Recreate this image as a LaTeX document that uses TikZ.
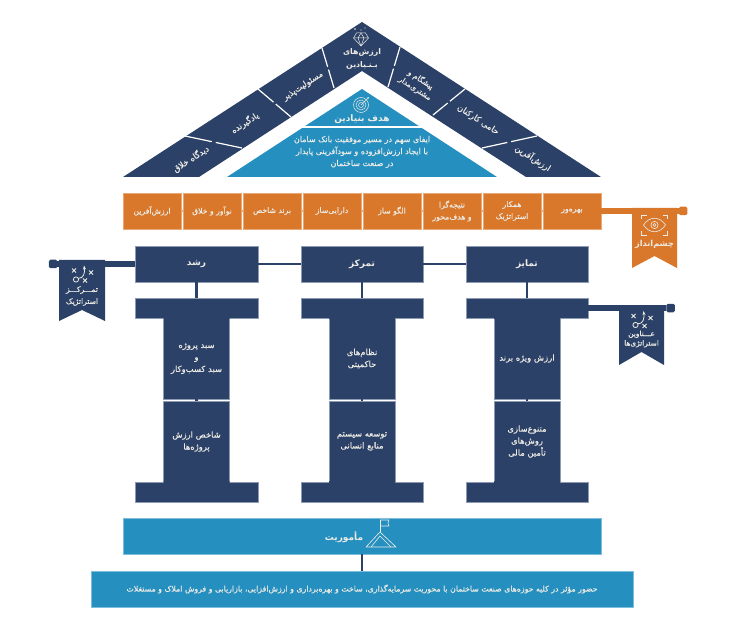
\documentclass[tikz,border=0pt]{standalone}
\usepackage{fontspec}
\usetikzlibrary{calc,arrows.meta,positioning}
\TeXXeTstate=1
\newfontfamily\persianfont[Script=Arabic,FakeBold=0.35]{DejaVu Sans}
\newfontfamily\persiantitle[Script=Arabic]{DejaVu Sans}
\newcommand{\fa}[1]{\beginR #1\endR}
\definecolor{navy}{HTML}{2C4167}
\definecolor{navyedge}{HTML}{8C9AB3}
\definecolor{amber}{HTML}{D9782B}
\definecolor{amberedge}{HTML}{E9A876}
\definecolor{sky}{HTML}{2590C0}
\definecolor{skyedge}{HTML}{7CBEDB}
\definecolor{paper}{HTML}{EDEBE6}

\tikzset{
  pics/tactic/.style={code={
    \draw[paper, line width=0.8pt] (-6,6) circle (2.6);
    \draw[paper, line width=0.8pt, -{Stealth[length=4pt]}] (-4,5) .. controls (2,5) and (3,-1) .. (2,-8);
    \foreach \px/\py in {-8/-3, 9/-1, 3/7} {
      \draw[paper, line width=0.9pt] (\px-2,\py-2) -- (\px+2,\py+2) (\px-2,\py+2) -- (\px+2,\py-2);
    }
  }}
}

\begin{document}
\begin{tikzpicture}[x=1pt, y=-1pt, font=\persianfont,
  caption/.style={text=paper, align=center, inner sep=0pt, font=\persianfont\fontsize{8.4}{11.5}\selectfont},
  barbox/.style={fill=navy, draw=navyedge, line width=0.4pt, inner sep=0pt, text=paper, align=center,
              font=\persianfont\fontsize{8.4}{12}\selectfont},
  bluebar/.style={fill=sky, draw=skyedge, line width=0.5pt, inner sep=0pt, text=paper, align=center},
  orangebox/.style={fill=amber, draw=amberedge, line width=0.6pt, inner sep=0pt, minimum width=58pt,
              minimum height=36pt, text=paper, align=center, font=\persianfont\fontsize{7.7}{12}\selectfont},
  headbox/.style={barbox, minimum width=122.5pt, minimum height=36pt, font=\persiantitle\bfseries\fontsize{9}{11}\selectfont},
  capbox/.style={barbox, minimum width=122.5pt, minimum height=20pt},
  shaftbox/.style={barbox, minimum width=66pt, minimum height=81pt},
  navylink/.style={navy, line width=2.2pt},
  thickbar/.style={line width=6pt},
  sepline/.style={white, line width=1.2pt},
  ringend/.style={rounded corners=1.5pt, minimum size=8.5pt, inner sep=0pt},
  ]

\useasboundingbox (0,0) rectangle (736,628);

% ======================================================================
% ROOF: outer band and its dividers
% ======================================================================
\fill[navy] (123,177) -- (362,22) -- (601,177) -- (526,177) -- (362,71) -- (199,177) -- cycle;

\foreach \ax/\ay/\bx/\by in {185/136/242/148, 258/89/291/117, 322/48/334/88,
                             400/47/388/87, 465/89/433/115, 537/136/482/148} {
  \coordinate (sepstart) at (\ax,\ay);
  \coordinate (sepend) at (\bx,\by);
  \draw[sepline] (sepstart) -- ($(sepstart)!0.47!(sepend)$);
  \draw[sepline] ($(sepstart)!0.54!(sepend)$) -- (sepend);
}

\node[caption, rotate=33] (vision1) at (191,159) {\fa{دیدگاه خلاق}};
\node[caption, rotate=33] (vision2) at (245,123) {\fa{یادگیرنده}};
\node[caption, rotate=33] (vision3) at (303,86) {\fa{مسئولیت‌پذیر}};
\node[caption, font=\persiantitle\bfseries\fontsize{7.8}{13.5}\selectfont] (core) at (362,59)
  {\fa{ارزش‌های}\\\fa{بـنـیادین}};
\node[caption, rotate=-33, font=\persianfont\fontsize{7.6}{10.5}\selectfont] (value1) at (418,84)
  {\fa{پیشگام و}\\\fa{مشتری‌مدار}};
\node[caption, rotate=-33] (value2) at (478,120) {\fa{حامی کارکنان}};
\node[caption, rotate=-33] (value3) at (533,158) {\fa{ارزش‌آفرین}};

% Small diamond icon
\begin{scope}[shift={(361,39)}, paper, line width=0.5pt, line join=round]
  \draw (-4.5,-6) -- (4.5,-6) -- (7.5,-1) -- (0,7) -- (-7.5,-1) -- cycle;
  \draw (-7.5,-1) -- (7.5,-1) (-3,-1) -- (0,7) -- (3,-1) -- (0,-6) -- cycle;
  \fill (-6,-10) circle (0.8) (0,-9) circle (0.7) (4,-11) circle (0.6);
\end{scope}

% ======================================================================
% Blue triangle
% ======================================================================
\fill[sky] (227,177) -- (362,89) -- (497,177) -- cycle;
\draw[white, line width=1.2pt] (294,127) -- (430,127);

\begin{scope}[shift={(361,105)}, paper, line width=0.5pt]
  \draw (0,0) circle (7.5) (0,0) circle (5) (0,0) circle (2.5);
  \draw[-{Stealth[length=2.5pt]}] (0,0) -- (8,-8);
\end{scope}
\node[caption, font=\persiantitle\bfseries\fontsize{9}{11}\selectfont] (goaltitle) at (362,119) {\fa{هدف بنیادین}};
\node[caption, font=\persianfont\fontsize{8}{12}\selectfont] (goaltext) at (362,152)
  {\fa{ایفای سهم در مسیر موفقیت بانک سامان}\\
   \fa{با ایجاد ارزش‌افزوده و سودآفرینی پایدار}\\
   \fa{در صنعت ساختمان}};

% ======================================================================
% Orange row
% ======================================================================
\foreach \n/\x/\t in {boxA/152/{\fa{ارزش‌آفرین}},
                      boxB/212/{\fa{نوآور و خلاق}},
                      boxC/272/{\fa{برند شاخص}},
                      boxD/332/{\fa{دارایی‌ساز}},
                      boxE/392/{\fa{الگو ساز}},
                      boxF/452/{\fa{نتیجه‌گرا}\\\fa{و هدف‌محور}},
                      boxG/512/{\fa{همکار}\\\fa{استراتژیک}},
                      boxH/572/{\fa{بهره‌ور}}} {
  \node[orangebox] (\n) at (\x,211) {\t};
}
\foreach \a/\b in {boxA/boxB, boxB/boxC, boxC/boxD, boxD/boxE, boxE/boxF, boxF/boxG, boxG/boxH} {
  \draw[amberedge, line width=2pt] (\a.east) -- (\b.west);
}

% Vision flag
\node[fill=amber, ringend] (visionend) at (683,211) {};
\draw[amber, thickbar] (boxH.east) -- (visionend);
\fill[amber] (632,208) -- (677,208) -- (677,268) -- (654.5,256) -- (632,268) -- cycle;
\begin{scope}[shift={(654.5,225)}, paper, line width=0.6pt]
  \draw (-11,0) .. controls (-5,-9) and (5,-9) .. (11,0) .. controls (5,9) and (-5,9) .. (-11,0) -- cycle;
  \draw (0,0) circle (3.6) (0,0) circle (1.5);
  \draw (-13,-6) -- (-13,-10) -- (-8,-10) (8,-10) -- (13,-10) -- (13,-6)
        (13,6) -- (13,10) -- (8,10) (-8,10) -- (-13,10) -- (-13,6);
\end{scope}
\node[caption, font=\persiantitle\bfseries\fontsize{8.2}{11}\selectfont] (visiontext) at (654.5,244) {\fa{چشم‌انداز}};

% ======================================================================
% Three pillars
% ======================================================================
\foreach \n/\x/\t in {growth/196.5/{رشد}, focus/362/{تمرکز}, edge/527/{تمایز}} {
  \node[headbox] (\n) at (\x,264) {\fa{\t}};
  \node[capbox] (\n-top) at (\x,308) {};
  \node[capbox] (\n-base) at (\x,492) {};
  \draw[navylink] (\n.south) -- (\n-top.north);
}
\draw[navylink] (growth.east) -- (focus.west);
\draw[navylink] (focus.east) -- (edge.west);

\node[shaftbox] (growthA) at (196.5,358.5) {\fa{سبد پروژه}\\\fa{و}\\\fa{سبد کسب‌وکار}};
\node[shaftbox] (growthB) at (196.5,441.5) {\fa{شاخص ارزش}\\\fa{پروژه‌ها}};
\node[shaftbox] (focusA) at (362,358.5) {\fa{نظام‌های}\\\fa{حاکمیتی}};
\node[shaftbox] (focusB) at (362,441.5) {\fa{توسعه سیستم}\\\fa{منابع انسانی}};
\node[shaftbox] (edgeA) at (527,358.5) {\fa{ارزش ویژه برند}};
\node[shaftbox] (edgeB) at (527,441.5) {\fa{متنوع‌سازی}\\\fa{روش‌های}\\\fa{تأمین مالی}};
\foreach \a/\b in {growthA/growthB, focusA/focusB, edgeA/edgeB} {
  \draw[navylink] (\a.south) -- (\b.north);
}
% hide the joins between shaft and cap
\fill[navy] (163.5,317) rectangle (229.5,319) (163.5,481) rectangle (229.5,483);
\fill[navy] (329,317) rectangle (395,319) (329,481) rectangle (395,483);
\fill[navy] (494,317) rectangle (560,319) (494,481) rectangle (560,483);

% Left flag
\node[fill=navy, ringend] (growthend) at (53,264) {};
\draw[navy, thickbar] (growth.west) -- (growthend);
\fill[navy] (59,260) -- (105,260) -- (105,321) -- (82,310) -- (59,321) -- cycle;
\pic at (82,273.5) {tactic};
\node[caption, font=\persianfont\fontsize{7.6}{12}\selectfont] (flagleft) at (82,296)
  {\fa{تمـــرکـــز}\\\fa{استراتژیک}};

% Right flag
\node[fill=navy, ringend] (edgeend) at (670.5,308) {};
\draw[navy, thickbar] (edge-top.east) -- (edgeend);
\fill[navy] (619,305) -- (664,305) -- (664,365) -- (641.5,352) -- (619,365) -- cycle;
\pic at (641.5,319) {tactic};
\node[caption, font=\persianfont\fontsize{7.4}{9.5}\selectfont] (flagright) at (641.5,339)
  {\fa{عـــناوین}\\\fa{استراتژی‌ها}};

% ======================================================================
% Mission
% ======================================================================
\node[bluebar, minimum width=478pt, minimum height=36pt] (mission) at (362,536) {};
\node[bluebar, minimum width=542pt, minimum height=36pt,
      font=\persianfont\fontsize{7.8}{8}\selectfont] (missiontext) at (362,589)
  {\fa{حضور مؤثر در کلیه حوزه‌های صنعت ساختمان با محوریت سرمایه‌گذاری، ساخت و بهره‌برداری و ارزش‌افزایی، بازاریابی و فروش املاک و مستغلات}};
\draw[navylink] (mission.south) -- (missiontext.north);
\node[caption, font=\persiantitle\bfseries\fontsize{9}{11}\selectfont] (missiontitle) at (344,537) {\fa{مأموریت}};
\begin{scope}[shift={(380,532)}, paper, line width=0.6pt, line join=round]
  \draw (-14,15) -- (0,0) -- (16,15) -- cycle;
  \draw (-9,15) -- (0,4) -- (11,15);
  \draw (0,0) -- (0,-12);
  \draw (0,-12) -- (9,-12) -- (8,-9) -- (9,-6) -- (0,-6);
\end{scope}

\end{tikzpicture}
\end{document}
